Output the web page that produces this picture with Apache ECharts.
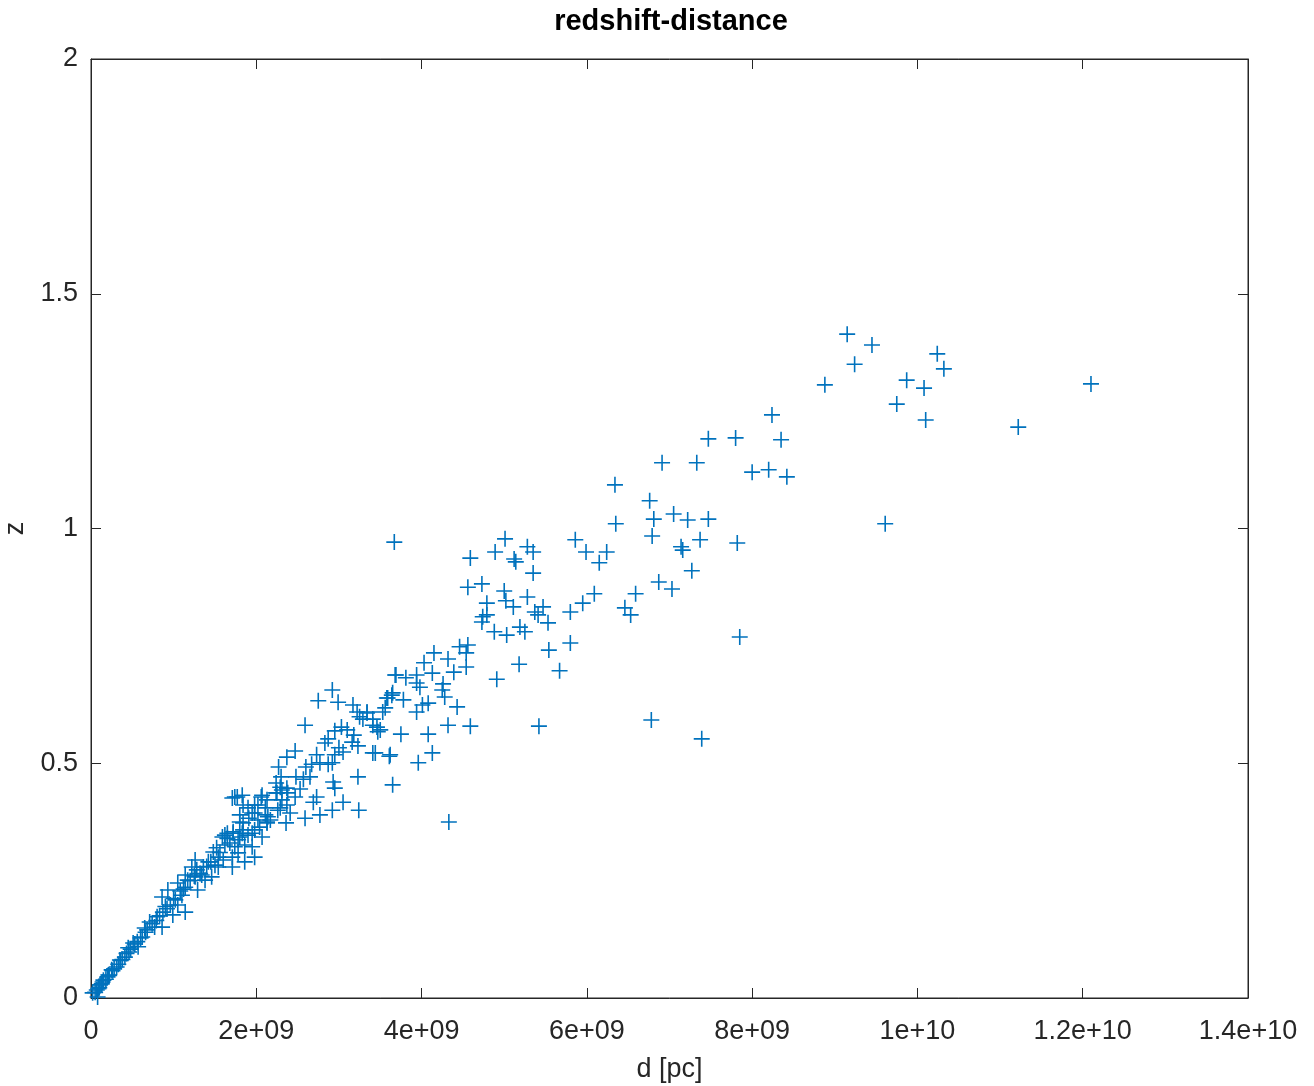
<!DOCTYPE html>
<html>
<head>
<meta charset="utf-8">
<title>redshift-distance</title>
<script src="https://cdn.jsdelivr.net/npm/echarts@6/dist/echarts.min.js"></script>
<style>
  html, body { margin: 0; padding: 0; background: #fff; }
  #chart { width: 1314px; height: 1086px; }
</style>
</head>
<body>
<div id="chart"></div>
<script>
// distances are in units of 1e9 pc, z is the redshift
var farDist = [12.10, 11.22, 9.15, 9.45, 9.24, 8.88, 10.24, 10.32, 9.87, 10.08, 9.75, 10.10, 9.61, 8.24, 8.35, 7.47, 7.80, 8.00, 8.20, 8.42];
var farZ    = [1.308, 1.216, 1.414, 1.391, 1.350, 1.306, 1.372, 1.340, 1.316, 1.299, 1.265, 1.231, 1.010, 1.242, 1.189, 1.191, 1.193, 1.120, 1.125, 1.110];

var midDist = [6.91, 7.33, 6.34, 6.76, 6.81, 7.05, 7.22, 7.47, 6.35, 6.79, 7.14, 7.16, 7.37, 7.82, 7.27, 5.86, 5.99, 6.24, 6.15, 6.87,
               7.03, 6.59, 6.09, 5.95, 6.46, 6.53, 5.80, 7.85, 6.78, 7.39, 5.42];
var midZ    = [1.140, 1.140, 1.093, 1.059, 1.020, 1.031, 1.018, 1.020, 1.010, 0.984, 0.961, 0.954, 0.976, 0.969, 0.910, 0.976, 0.950, 0.950, 0.927, 0.886,
               0.871, 0.861, 0.861, 0.841, 0.831, 0.816, 0.822, 0.769, 0.592, 0.552, 0.579];

var cloudDist = [5.01, 4.89, 4.59, 5.28, 5.35, 5.12, 5.14, 5.35, 4.56, 4.73, 5.00, 5.02, 5.11, 5.28, 4.79, 4.74, 4.79, 4.73, 5.37, 5.41,
                 5.47, 5.53, 4.88, 5.03, 5.19, 5.25, 5.80, 5.54, 5.18, 5.67, 4.91, 4.46, 4.56, 4.54, 4.32, 4.15, 4.54, 4.39, 4.03, 4.13,
                 3.69, 3.81, 3.94, 3.94, 4.26, 4.25, 4.28, 3.98, 4.08, 3.58, 3.64, 3.78, 4.01, 4.43, 3.94, 3.56, 3.34, 3.25, 3.41, 3.47,
                 4.32, 4.59, 4.08, 3.75, 3.62, 3.44, 4.13, 3.67, 4.33, 3.96];
var cloudZ    = [0.978, 0.950, 0.937, 0.961, 0.950, 0.935, 0.929, 0.905, 0.875, 0.882, 0.867, 0.846, 0.833, 0.854, 0.841, 0.812, 0.816, 0.801, 0.822, 0.816,
                 0.833, 0.799, 0.780, 0.773, 0.790, 0.780, 0.756, 0.741, 0.711, 0.697, 0.679, 0.748, 0.752, 0.735, 0.722, 0.735, 0.705, 0.694, 0.714, 0.692,
                 0.688, 0.682, 0.688, 0.671, 0.669, 0.656, 0.641, 0.662, 0.628, 0.639, 0.645, 0.635, 0.624, 0.620, 0.609, 0.618, 0.609, 0.599, 0.581, 0.567,
                 0.581, 0.579, 0.562, 0.562, 0.518, 0.522, 0.522, 0.971, 0.375, 0.501];

var bandDist = [2.92, 2.75, 2.99, 3.17, 3.22, 3.34, 3.29, 3.41, 3.53, 3.59, 3.65, 3.68, 2.59, 3.03, 3.10, 2.95, 3.46, 3.50, 3.18, 2.87,
                2.83, 3.16, 3.23, 3.00, 3.05, 2.95, 2.73, 3.41, 3.61, 2.47, 2.37, 2.27, 2.60, 2.67, 2.77, 2.87, 2.92, 2.48, 2.57, 2.65,
                2.93, 3.23, 3.65, 2.30, 2.24, 2.37, 2.31, 2.38, 2.53, 2.47, 2.73, 2.69, 2.95, 3.05, 2.92, 3.24, 2.77, 2.59, 2.36, 2.24,
                2.06, 1.74, 1.83, 1.84, 1.98, 2.11, 2.29, 2.37, 2.41, 2.14, 2.13, 1.98, 1.91, 1.80, 1.84, 1.72, 1.62, 1.95, 2.04, 2.07,
                1.59, 1.80];
var bandZ    = [0.656, 0.633, 0.630, 0.624, 0.609, 0.607, 0.594, 0.594, 0.609, 0.639, 0.650, 0.688, 0.581, 0.577, 0.571, 0.569, 0.577, 0.571, 0.560, 0.552,
                0.543, 0.545, 0.537, 0.533, 0.524, 0.518, 0.518, 0.522, 0.515, 0.526, 0.513, 0.492, 0.492, 0.498, 0.501, 0.498, 0.501, 0.471, 0.466, 0.471,
                0.460, 0.471, 0.454, 0.471, 0.458, 0.447, 0.443, 0.437, 0.445, 0.428, 0.428, 0.417, 0.447, 0.417, 0.400, 0.400, 0.390, 0.383, 0.373, 0.437,
                0.428, 0.428, 0.432, 0.411, 0.411, 0.405, 0.405, 0.411, 0.394, 0.386, 0.375, 0.394, 0.383, 0.375, 0.358, 0.351, 0.347, 0.351, 0.364, 0.343,
                0.343, 0.343];

var nearDist = [1.71, 1.77, 2.07, 2.02, 2.13, 2.25, 2.29, 2.31, 2.26, 2.11, 2.17, 1.95, 1.90, 1.80, 2.02, 2.13, 1.98, 1.84, 1.90, 1.83,
                1.72, 1.65, 1.98, 1.78, 1.86, 1.74, 1.71, 1.62, 1.54, 1.60, 1.48, 1.42, 1.71, 1.50, 1.36, 1.28, 1.22, 1.38, 1.26, 1.17,
                1.29, 1.14, 1.05, 1.10, 1.02, 0.96, 1.05, 1.14, 0.99, 0.87, 0.80, 0.86, 0.77, 0.71, 0.65, 0.62, 0.57, 0.51, 0.45, 0.41,
                0.35, 0.31, 0.25, 0.21, 0.15, 0.11, 0.07, 0.02, 0.08,
                0.05, 0.10, 0.13, 0.18, 0.22, 0.28, 0.33, 0.38, 0.43, 0.48, 0.53, 0.60, 0.66, 0.74, 0.83, 0.92, 1.00, 1.08, 1.20, 1.32,
                1.45, 1.56, 1.68, 0.09, 0.14, 0.20, 0.26, 0.36, 0.46, 0.56, 0.68, 0.79, 0.90, 1.12, 1.25, 1.40, 1.52, 1.65,
                1.26, 1.34, 1.14, 0.93, 0.86, 1.46, 1.54, 1.78, 1.86, 1.95];
var nearZ    = [0.426, 0.428, 0.432, 0.411, 0.422, 0.437, 0.449, 0.422, 0.400, 0.390, 0.379, 0.394, 0.405, 0.390, 0.379, 0.373, 0.358, 0.373, 0.347, 0.351,
                0.354, 0.351, 0.300, 0.337, 0.326, 0.322, 0.300, 0.326, 0.300, 0.294, 0.311, 0.290, 0.279, 0.283, 0.279, 0.273, 0.279, 0.251, 0.258, 0.251,
                0.230, 0.236, 0.245, 0.219, 0.209, 0.198, 0.198, 0.183, 0.177, 0.183, 0.173, 0.151, 0.151, 0.162, 0.149, 0.130, 0.109, 0.117, 0.107, 0.087,
                0.081, 0.066, 0.060, 0.049, 0.038, 0.028, 0.017, 0.011, 0.002,
                0.012, 0.022, 0.030, 0.040, 0.048, 0.062, 0.072, 0.082, 0.095, 0.104, 0.115, 0.128, 0.140, 0.158, 0.175, 0.190, 0.212, 0.228, 0.250, 0.265,
                0.290, 0.310, 0.330, 0.020, 0.034, 0.045, 0.058, 0.080, 0.098, 0.120, 0.145, 0.165, 0.195, 0.232, 0.260, 0.280, 0.320, 0.340,
                0.294, 0.262, 0.262, 0.230, 0.215, 0.258, 0.279, 0.309, 0.290, 0.322];

var xTicks = { min: 0, max: 1.4e10, step: 2e9 };
var yTicks = { min: 0, max: 2, step: 0.5 };

function pairs(dist, z) {
    var out = [];
    for (var i = 0; i < dist.length; i++) {
        out.push([dist[i] * 1e9, z[i]]);
    }
    return out;
}

var points = [].concat(
    pairs(farDist, farZ),
    pairs(midDist, midZ),
    pairs(cloudDist, cloudZ),
    pairs(bandDist, bandZ),
    pairs(nearDist, nearZ)
);

// matlab style 0 / 2e+09 / 1.2e+10
function expLabel(v) {
    if (v === 0) return '0';
    var parts = v.toExponential().split('e');
    var sign = parts[1].charAt(0);
    var exp = parts[1].slice(1);
    if (exp.length < 2) exp = '0' + exp;
    return parts[0] + 'e' + sign + exp;
}

var font = 'Liberation Sans, Arial, Helvetica, sans-serif';
var ink = '#262626';
var plus = 'path://M-0.1,-1 L0.1,-1 L0.1,-0.1 L1,-0.1 L1,0.1 L0.1,0.1 L0.1,1 L-0.1,1 L-0.1,0.1 L-1,0.1 L-1,-0.1 L-0.1,-0.1 Z';

var chart = echarts.init(document.getElementById('chart'));

var axisLine = { show: true, onZero: false, lineStyle: { color: ink, width: 1 } };
var axisTick = { show: true, inside: true, length: 10, lineStyle: { color: ink, width: 1 } };

var option = {
    animation: false,
    backgroundColor: '#fff',
    title: {
        text: 'redshift-distance',
        left: 666,
        top: 2,
        textAlign: 'center',
        textStyle: { fontFamily: font, fontSize: 29, fontWeight: 'bold', color: '#000' }
    },
    grid: {
        left: 91, right: 66, top: 59, bottom: 88,
        containLabel: false,
        outerBoundsMode: 'none',
        show: true,
        borderColor: ink,
        borderWidth: 1,
        backgroundColor: 'transparent'
    },
    xAxis: [{
        type: 'value',
        gridIndex: 0,
        position: 'bottom',
        min: xTicks.min, max: xTicks.max, interval: xTicks.step,
        name: 'd [pc]',
        nameLocation: 'middle',
        nameGap: 58,
        nameTextStyle: { fontFamily: font, fontSize: 27, color: ink },
        axisLine: axisLine,
        axisTick: axisTick,
        splitLine: { show: false },
        axisLabel: { fontFamily: font, fontSize: 27, color: ink, margin: 20, formatter: expLabel }
    }, {
        type: 'value',
        gridIndex: 0,
        show: true,
        position: 'top',
        offset: 0,
        min: xTicks.min, max: xTicks.max, interval: xTicks.step,
        axisLine: axisLine,
        axisTick: axisTick,
        splitLine: { show: false },
        axisLabel: { show: false }
    }],
    yAxis: [{
        type: 'value',
        gridIndex: 0,
        position: 'left',
        min: yTicks.min, max: yTicks.max, interval: yTicks.step,
        name: 'z',
        nameLocation: 'middle',
        nameGap: 62,
        nameTextStyle: { fontFamily: font, fontSize: 27, color: ink },
        axisLine: axisLine,
        axisTick: axisTick,
        splitLine: { show: false },
        axisLabel: { fontFamily: font, fontSize: 27, color: ink, margin: 13 }
    }, {
        type: 'value',
        gridIndex: 0,
        show: true,
        position: 'right',
        offset: 0,
        min: yTicks.min, max: yTicks.max, interval: yTicks.step,
        axisLine: axisLine,
        axisTick: axisTick,
        splitLine: { show: false },
        axisLabel: { show: false }
    }],
    series: [{
        type: 'scatter',
        xAxisIndex: 0,
        yAxisIndex: 0,
        symbol: plus,
        symbolSize: 16,
        itemStyle: { color: '#0072BD', opacity: 1 },
        data: points
    }]
};

chart.setOption(option);
</script>
</body>
</html>
